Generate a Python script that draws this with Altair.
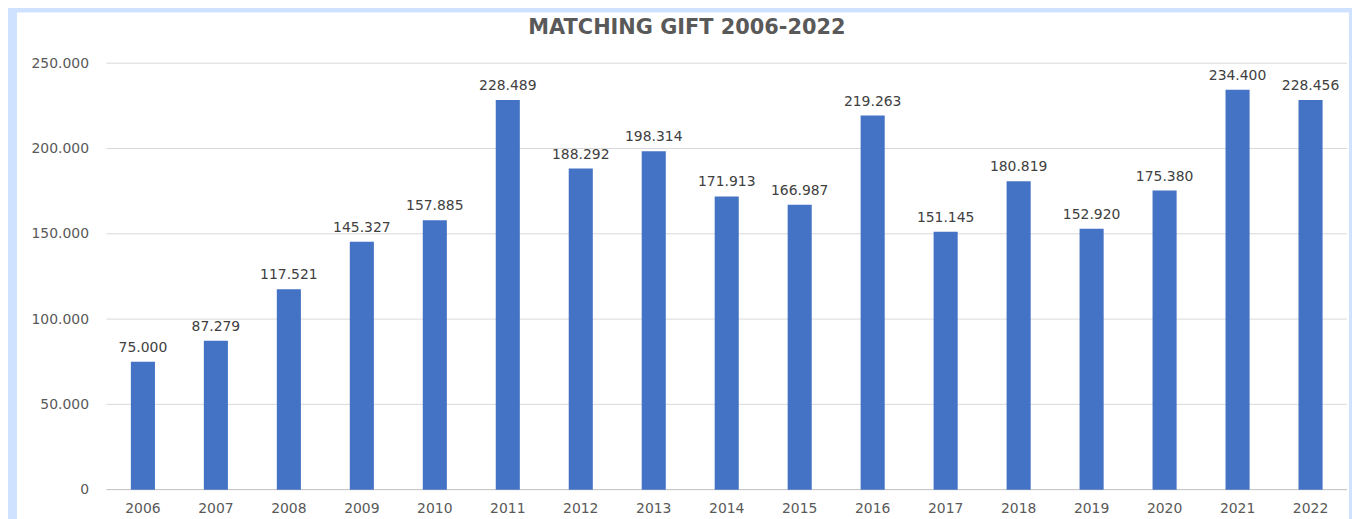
import altair as alt
import pandas as pd

years = ["2006", "2007", "2008", "2009", "2010", "2011", "2012", "2013", "2014",
         "2015", "2016", "2017", "2018", "2019", "2020", "2021", "2022"]
values = [75000, 87279, 117521, 145327, 157885, 228489, 188292, 198314, 171913,
          166987, 219263, 151145, 180819, 152920, 175380, 234400, 228456]
grid_values = [0, 50000, 100000, 150000, 200000, 250000]
title_text = "MATCHING GIFT 2006-2022"

df = pd.DataFrame({
    "year": years,
    "value": values,
    "label": [f"{v:,}".replace(",", ".") for v in values],
})
grid_df = pd.DataFrame({"g": grid_values,
                        "c": ["#bfbfbf"] + ["#d9d9d9"] * 5})

FONT = "DejaVu Sans"
W, H = 1248, 429

xscale = alt.Scale(paddingInner=0.67, paddingOuter=0.335)
yscale = alt.Scale(domain=[0, 250000], nice=False)

yaxis = alt.Axis(title=None, values=grid_values, grid=False, domain=False,
                 ticks=False, labelPadding=18, labelColor="#595959",
                 labelFont=FONT, labelFontSize=14, zindex=1,
                 labelExpr="replace(format(datum.value, ','), ',', '.')")
xaxis = alt.Axis(title=None, labelAngle=0, domain=False, ticks=False,
                 labelPadding=12, labelColor="#595959", labelFont=FONT,
                 labelFontSize=14, zindex=1)

bg = alt.Chart(pd.DataFrame({"a": [0]})).mark_rect(color="white").encode(
    x=alt.value(-90), x2=alt.value(1250), y=alt.value(-51), y2=alt.value(470)
)

grid = alt.Chart(grid_df).mark_rule(strokeWidth=1).encode(
    y=alt.Y("g:Q", scale=yscale, axis=yaxis),
    color=alt.Color("c:N", scale=None),
)

bars = alt.Chart(df).mark_bar(color="#4472C4").encode(
    x=alt.X("year:N", sort=years, scale=xscale, axis=xaxis),
    y=alt.Y("value:Q", scale=yscale, axis=yaxis),
)

labels = alt.Chart(df).mark_text(
    dy=-7, baseline="bottom", font=FONT, fontSize=14, color="#404040"
).encode(
    x=alt.X("year:N", sort=years, scale=xscale, axis=xaxis),
    y=alt.Y("value:Q", scale=yscale, axis=yaxis),
    text="label:N",
)

title = alt.Chart(pd.DataFrame({"t": [title_text]})).mark_text(
    font=FONT, fontSize=21, fontWeight="bold", color="#595959",
    align="center", baseline="middle"
).encode(x=alt.value(584), y=alt.value(-35), text="t:N")

chart = alt.layer(bg, grid, bars, labels, title).properties(
    width=W, height=H,
    autosize=alt.AutoSizeParams(type="none"),
    padding={"left": 99, "top": 54, "right": 5, "bottom": 28},
    background="#cfe2ff",
).configure_view(stroke=None)

chart.save("out.html", embed_options={"renderer": "svg", "actions": False})
